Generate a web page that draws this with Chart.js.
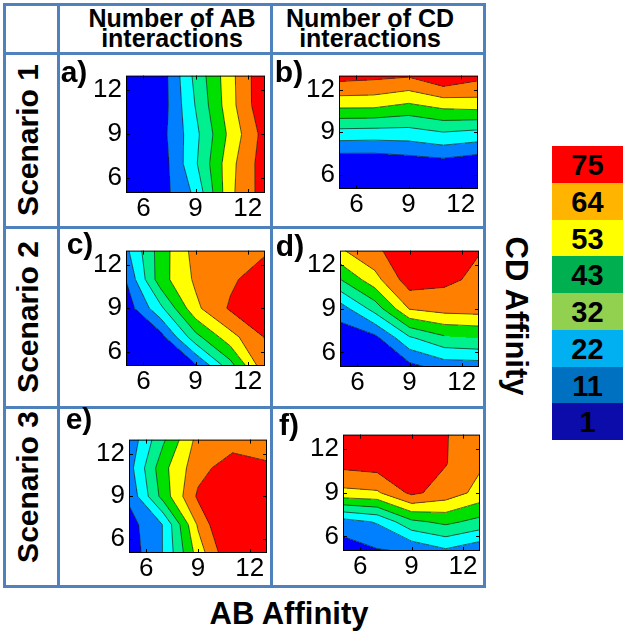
<!DOCTYPE html>
<html>
<head>
<meta charset="utf-8">
<script src="https://cdn.jsdelivr.net/npm/chart.js@4.4.0/dist/chart.umd.min.js"></script>
<style>
    body { margin: 0; background: #fff; width: 625px; height: 632px; position: relative; overflow: hidden;
           font-family: "Liberation Sans", Arial, sans-serif; }
    .ln { position: absolute; background: #4f81bd; }
    .lbl { position: absolute; font-weight: bold; color: #000; white-space: nowrap; line-height: 1; }
    .pan { position: absolute; }
    .cb { position: absolute; left: 552px; width: 71px; font-weight: bold; font-size: 29px;
          text-align: center; color: #000; }
</style>
</head>
<body>

<script>

// sample points of the simulations (AB affinity on x, CD affinity on y)
var affinityGrid = [5, 7, 9, 11, 13];
var affinityTicks = [6, 9, 12];

// contour level bounds and the colour bar labels
var levelBounds = [6, 16.5, 27, 37.5, 48, 58.5, 69.5];
var legendLabels = [75, 64, 53, 43, 32, 22, 11, 1];

// rows: CD affinity 5, 7, 9, 11, 13   columns: AB affinity 5, 7, 9, 11, 13
var scenario1AB = [
    [0, 1.2, 18.7, 56, 75],
    [0, 0, 25.5, 55, 75.5],
    [0, 2, 24, 51, 74],
    [0, 0, 27.5, 54.5, 79],
    [0, 0, 30, 55, 79]
];
var scenario1CD = [
    [0, 0, 0, 0, 0],
    [0, 0, 2.2, 4.1, 0.9],
    [23.4, 22.8, 22.8, 26.8, 24.4],
    [52.2, 52, 47.5, 52.4, 54],
    [74, 72.5, 70.7, 80, 73]
];
var scenario2AB = [
    [0, 0, 4, 33, 66],
    [0, 2, 33.8, 54.5, 70],
    [0, 24.5, 56, 71, 78],
    [6.3, 43.7, 60.3, 67.5, 76],
    [14, 42.7, 62.6, 66, 68]
];
var scenario2CD = [
    [0, 0, 2.5, 10, 10.5],
    [0, 3, 25.5, 35.5, 37.5],
    [11, 31, 59, 62.5, 63.4],
    [37, 54.5, 75.5, 72, 67],
    [57, 67, 78, 78, 70]
];
var scenario3AB = [
    [0, 17, 52.5, 81, 82],
    [1.7, 17, 60, 88, 85],
    [8, 42, 71.5, 80, 80],
    [12.3, 45, 65.3, 75.8, 70],
    [9, 36, 62, 64, 68]
];
var scenario3CD = [
    [0, 5, 7, 14.5, 8],
    [12, 17.4, 35, 40, 34],
    [55.5, 57, 72, 64.6, 55],
    [73, 75, 80, 70, 60],
    [78, 80, 80, 70, 64]
];

var bandColors = ['#0000ff', '#0080ff', '#00ffff', '#00f090', '#00e000', '#ffff00', '#ff8000', '#ff0000'];
var legendColors = ['#ff0000', '#ffb400', '#ffff00', '#00b050', '#92d050', '#00b0f0', '#0070c0', '#0c0caa'];

Chart.defaults.font.family = '"Liberation Sans", Arial, sans-serif';

function hexRgb(h) {
    return [parseInt(h.substr(1, 2), 16), parseInt(h.substr(3, 2), 16), parseInt(h.substr(5, 2), 16)];
}
var bandRgb = bandColors.map(hexRgb);

function gridFromPoints(pts) {
    var n = affinityGrid.length, z = [];
    for (var j = 0; j < n; j++) {
        z.push([]);
        for (var i = 0; i < n; i++) z[j].push(pts[j * n + i].v);
    }
    return z;
}

function cellCorners(z, i, j) {
    var x0 = affinityGrid[i], x1 = affinityGrid[i + 1], y0 = affinityGrid[j], y1 = affinityGrid[j + 1];
    return [[x0, y0, z[j][i]], [x1, y0, z[j][i + 1]], [x1, y1, z[j + 1][i + 1]], [x0, y1, z[j + 1][i]]];
}

// marching squares: part of a cell at or above level L, plus the edge crossings
function cellLevel(corners, L) {
    var poly = [], cross = [];
    for (var e = 0; e < 4; e++) {
        var p = corners[e], q = corners[(e + 1) % 4];
        if (p[2] >= L) poly.push([p[0], p[1]]);
        if ((p[2] - L) * (q[2] - L) < 0) {
            var f = (L - p[2]) / (q[2] - p[2]);
            var pt = [p[0] + f * (q[0] - p[0]), p[1] + f * (q[1] - p[1])];
            poly.push(pt);
            cross.push(pt);
        }
    }
    return { poly: poly, cross: cross };
}

function inside(poly, x, y) {
    var c = false;
    for (var a = 0, b = poly.length - 1; a < poly.length; b = a++) {
        var xa = poly[a][0], ya = poly[a][1], xb = poly[b][0], yb = poly[b][1];
        if ((ya > y) !== (yb > y) && x < (xb - xa) * (y - ya) / (yb - ya) + xa) c = !c;
    }
    return c;
}

var contourPlugin = {
    id: 'contourFill',
    beforeDatasetsDraw: function (chart) {
        var ctx = chart.ctx, area = chart.chartArea;
        var xs = chart.scales.x, ys = chart.scales.y;
        var z = gridFromPoints(chart.data.datasets[0].data);
        var n = affinityGrid.length - 1, step = affinityGrid[1] - affinityGrid[0];

        // level regions for every cell
        var cells = [];
        for (var j = 0; j < n; j++) {
            cells.push([]);
            for (var i = 0; i < n; i++) {
                var cr = cellCorners(z, i, j);
                cells[j].push({
                    corners: cr,
                    levels: levelBounds.map(function (L) { return cellLevel(cr, L); })
                });
            }
        }

        var w = Math.round(area.right - area.left), h = Math.round(area.bottom - area.top);
        var off = document.createElement('canvas');
        off.width = w;
        off.height = h;
        var octx = off.getContext('2d');
        var img = octx.createImageData(w, h);
        for (var py = 0; py < h; py++) {
            var yv = ys.getValueForPixel(area.top + py + 0.5);
            var cj = Math.min(Math.max(Math.floor((yv - affinityGrid[0]) / step), 0), n - 1);
            for (var px = 0; px < w; px++) {
                var xv = xs.getValueForPixel(area.left + px + 0.5);
                var ci = Math.min(Math.max(Math.floor((xv - affinityGrid[0]) / step), 0), n - 1);
                var cell = cells[cj][ci], band = 0;
                for (var l = 0; l < levelBounds.length; l++) {
                    var poly = cell.levels[l].poly;
                    if (poly.length === 4 && cell.levels[l].cross.length === 0) band++;
                    else if (poly.length > 2 && inside(poly, xv, yv)) band++;
                }
                var rgb = bandRgb[band];
                var k = (py * w + px) * 4;
                img.data[k] = rgb[0];
                img.data[k + 1] = rgb[1];
                img.data[k + 2] = rgb[2];
                img.data[k + 3] = 255;
            }
        }
        octx.putImageData(img, 0, 0);
        ctx.drawImage(off, area.left, area.top, area.right - area.left, area.bottom - area.top);

        // contour lines
        ctx.save();
        ctx.beginPath();
        ctx.rect(area.left, area.top, area.right - area.left, area.bottom - area.top);
        ctx.clip();
        ctx.strokeStyle = '#202020';
        ctx.lineWidth = 0.7;
        ctx.beginPath();
        var seg = function (p, q) {
            ctx.moveTo(xs.getPixelForValue(p[0]), ys.getPixelForValue(p[1]));
            ctx.lineTo(xs.getPixelForValue(q[0]), ys.getPixelForValue(q[1]));
        };
        cells.forEach(function (row) {
            row.forEach(function (cell) {
                cell.levels.forEach(function (lv) {
                    var c = lv.cross;
                    if (c.length === 2) seg(c[0], c[1]);
                    else if (c.length === 4) { seg(c[0], c[1]); seg(c[2], c[3]); }
                });
            });
        });
        ctx.stroke();
        ctx.restore();
    },
    afterDatasetsDraw: function (chart) {
        var ctx = chart.ctx, area = chart.chartArea;
        var xs = chart.scales.x, ys = chart.scales.y;
        ctx.save();
        ctx.strokeStyle = '#000';
        ctx.lineWidth = 1;
        ctx.strokeRect(area.left + 0.5, area.top + 0.5, area.right - area.left - 1, area.bottom - area.top - 1);
        ctx.beginPath();
        affinityTicks.forEach(function (tv) {
            var px = Math.round(xs.getPixelForValue(tv)) + 0.5;
            var py = Math.round(ys.getPixelForValue(tv)) + 0.5;
            ctx.moveTo(px, area.bottom); ctx.lineTo(px, area.bottom - 4);
            ctx.moveTo(px, area.top); ctx.lineTo(px, area.top + 4);
            ctx.moveTo(area.left, py); ctx.lineTo(area.left + 4, py);
            ctx.moveTo(area.right, py); ctx.lineTo(area.right - 4, py);
        });
        ctx.stroke();
        ctx.restore();
    }
};

var axisW = 48, axisH = 36, pad = 3;

function makePanel(grid, box) {
    var cv = document.createElement('canvas');
    cv.className = 'pan';
    cv.width = axisW + (box.r - box.l) + pad;
    cv.height = pad + (box.b - box.t) + axisH;
    cv.style.left = (box.l - axisW) + 'px';
    cv.style.top = (box.t - pad) + 'px';
    document.body.appendChild(cv);

    var pts = [];
    for (var j = 0; j < affinityGrid.length; j++) {
        for (var i = 0; i < affinityGrid.length; i++) {
            pts.push({ x: affinityGrid[i], y: affinityGrid[j], v: grid[j][i] });
        }
    }

    var tickAxis = function (fit, tpad) {
        return {
            type: 'linear', min: 5, max: 13,
            afterBuildTicks: function (s) { s.ticks = affinityTicks.map(function (v) { return { value: v }; }); },
            afterFit: fit,
            grid: { display: false, drawTicks: false },
            border: { display: false },
            ticks: { color: '#000', font: { size: 26 }, padding: tpad, maxRotation: 0, autoSkip: false }
        };
    };

    return new Chart(cv, {
        type: 'scatter',
        data: { datasets: [{ data: pts, pointRadius: 0, showLine: false }] },
        options: {
            responsive: false,
            animation: false,
            layout: { padding: { top: pad, right: pad, left: 0, bottom: 0 } },
            scales: {
                x: tickAxis(function (s) { s.height = axisH; }, 0),
                y: tickAxis(function (s) { s.width = axisW; }, 4)
            },
            plugins: { legend: { display: false }, tooltip: { enabled: false } }
        },
        plugins: [contourPlugin]
    });
}

function addDiv(cls, css, html) {
    var d = document.createElement('div');
    d.className = cls;
    d.style.cssText = css;
    d.innerHTML = html;
    document.body.appendChild(d);
    return d;
}

// blue table frame
[4, 58, 271, 484].forEach(function (x) {
    addDiv('ln', 'left:' + (x - 1.5) + 'px;top:3px;width:3px;height:585px;', '');
});
[4, 53, 227, 407, 586].forEach(function (y) {
    addDiv('ln', 'left:3px;top:' + (y - 1.5) + 'px;width:483px;height:3px;', '');
});

makePanel(scenario1AB, { l: 126, t: 59, r: 265, b: 193 });
makePanel(scenario1CD, { l: 339, t: 59, r: 478, b: 189 });
makePanel(scenario2AB, { l: 126, t: 234, r: 265, b: 366 });
makePanel(scenario2CD, { l: 340, t: 234, r: 479, b: 367 });
makePanel(scenario3AB, { l: 129, t: 423, r: 267, b: 553 });
makePanel(scenario3CD, { l: 343, t: 418, r: 480, b: 551 });

// headers
addDiv('lbl', 'left:62px;top:8px;width:220px;text-align:center;font-size:25px;line-height:20px;',
    'Number of AB<br>interactions');
addDiv('lbl', 'left:260px;top:8px;width:220px;text-align:center;font-size:25px;line-height:20px;',
    'Number of CD<br>interactions');

[['Scenario 1', 140], ['Scenario 2', 317], ['Scenario 3', 487]].forEach(function (s) {
    addDiv('lbl', 'left:28px;top:' + s[1] + 'px;font-size:30px;transform:translate(-50%,-50%) rotate(-90deg);', s[0]);
});

[['a)', 74, 72], ['b)', 289, 72], ['c)', 80, 244], ['d)', 290, 246], ['e)', 79, 419], ['f)', 289, 425]].forEach(function (p) {
    addDiv('lbl', 'left:' + p[1] + 'px;top:' + p[2] + 'px;font-size:30px;transform:translate(-50%,-50%);', p[0]);
});

addDiv('lbl', 'left:289px;top:613px;font-size:31px;transform:translate(-50%,-50%);', 'AB Affinity');
addDiv('lbl', 'left:516px;top:316px;font-size:31px;transform:translate(-50%,-50%) rotate(90deg);', 'CD Affinity');

// colour bar
legendLabels.forEach(function (lab, k) {
    var top = 146 + k * 36.75;
    addDiv('cb', 'top:' + top + 'px;height:36.75px;line-height:38px;background:' + legendColors[k] + ';', String(lab));
});

</script>
</body>
</html>
